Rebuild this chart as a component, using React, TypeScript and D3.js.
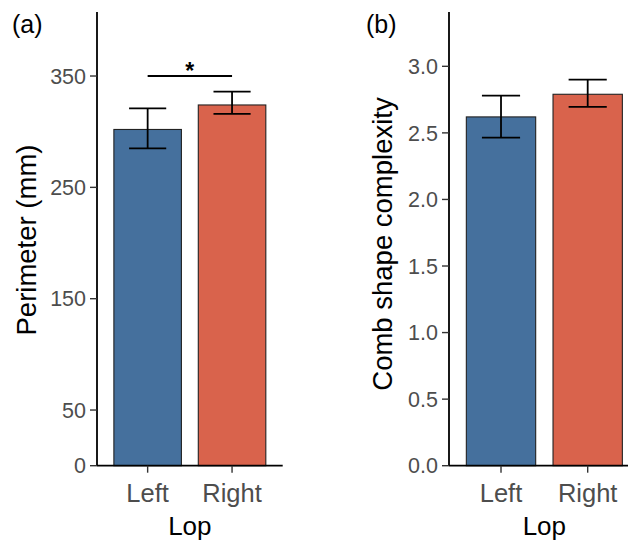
import React from 'react';
import * as d3 from 'd3';

// data
const categories = ['Left', 'Right'];
const barColors = ['#45709d', '#d9634c'];

const perimeterMean = [302, 324];
const perimeterLow = [285, 316];
const perimeterHigh = [321, 336];
const perimeterTicks = [0, 50, 150, 250, 350];

const complexityMean = [2.62, 2.79];
const complexityLow = [2.465, 2.695];
const complexityHigh = [2.78, 2.9];
const complexityTicks = [0, 0.5, 1, 1.5, 2, 2.5, 3];

const FONT = '"Liberation Sans", Arial, sans-serif';

type PanelProps = {
  label: string;
  yTitle: string;
  left: number;
  right: number;
  yMax: number;
  mean: number[];
  low: number[];
  high: number[];
  ticks: number[];
  tickFormat: (v: number) => string;
  titleX: number;
  titleY: number;
  labelX: number;
  sig?: { y: number; text: string };
};

const Panel = (p: PanelProps) => {
  const top = 12;
  const bottom = 465.7;
  const x = d3.scalePoint<string>().domain(categories).range([p.left, p.right]).padding(0.6);
  const step = x.step();
  const y = d3.scaleLinear().domain([0, p.yMax]).range([bottom, top]);
  const barW = step * 0.8;
  const errW = step * 0.44;

  return (
    <g>
      <text x={p.labelX} y={33} fontSize={25} fontFamily={FONT} fill="#000">
        {p.label}
      </text>
      {/* bars */}
      {categories.map((c, i) => (
        <rect
          key={c}
          x={(x(c) as number) - barW / 2}
          y={y(p.mean[i])}
          width={barW}
          height={bottom - y(p.mean[i])}
          fill={barColors[i]}
          stroke="#222"
          strokeWidth={1.1}
        />
      ))}
      {/* error bars */}
      {categories.map((c, i) => {
        const cx = x(c) as number;
        return (
          <g key={c} stroke="#000" strokeWidth={1.8}>
            <line x1={cx} x2={cx} y1={y(p.low[i])} y2={y(p.high[i])} />
            <line x1={cx - errW / 2} x2={cx + errW / 2} y1={y(p.low[i])} y2={y(p.low[i])} />
            <line x1={cx - errW / 2} x2={cx + errW / 2} y1={y(p.high[i])} y2={y(p.high[i])} />
          </g>
        );
      })}
      {p.sig && (
        <g>
          <line
            x1={x(categories[0])}
            x2={x(categories[1])}
            y1={y(p.sig.y)}
            y2={y(p.sig.y)}
            stroke="#000"
            strokeWidth={1.8}
          />
          <text
            x={((x(categories[0]) as number) + (x(categories[1]) as number)) / 2}
            y={y(p.sig.y) + 3}
            textAnchor="middle"
            fontSize={23}
            fontWeight="bold"
            fontFamily={FONT}
          >
            {p.sig.text}
          </text>
        </g>
      )}
      {/* y axis */}
      <line x1={p.left} x2={p.left} y1={top} y2={bottom} stroke="#000" strokeWidth={1.8} />
      {p.ticks.map((t) => (
        <g key={t}>
          <line x1={p.left - 7} x2={p.left} y1={y(t)} y2={y(t)} stroke="#333" strokeWidth={1.4} />
          <text
            x={p.left - 11}
            y={y(t)}
            dy="0.36em"
            textAnchor="end"
            fontSize={21.5}
            fontFamily={FONT}
            fill="#4d4d4d"
          >
            {p.tickFormat(t)}
          </text>
        </g>
      ))}
      {/* x axis */}
      <line x1={p.left} x2={p.right} y1={bottom} y2={bottom} stroke="#000" strokeWidth={1.8} />
      {categories.map((c) => (
        <g key={c}>
          <line x1={x(c)} x2={x(c)} y1={bottom} y2={bottom + 7} stroke="#333" strokeWidth={1.4} />
          <text
            x={x(c)}
            y={501.5}
            textAnchor="middle"
            fontSize={25.5}
            fontFamily={FONT}
            fill="#4d4d4d"
          >
            {c}
          </text>
        </g>
      ))}
      <text
        x={(p.left + p.right) / 2}
        y={535}
        textAnchor="middle"
        fontSize={26}
        fontFamily={FONT}
        fill="#000"
      >
        Lop
      </text>
      <text
        transform={`translate(${p.titleX},${p.titleY}) rotate(-90)`}
        textAnchor="middle"
        fontSize={27.5}
        fontFamily={FONT}
        fill="#000"
      >
        {p.yTitle}
      </text>
    </g>
  );
};

export default function App() {
  return (
    <svg
      width={628}
      height={542}
      style={{ position: 'absolute', left: 0, top: 0, background: '#fff' }}
    >
      <rect width={628} height={542} fill="#fff" />
      <Panel
        label="(a)"
        yTitle="Perimeter (mm)"
        left={97}
        right={282.7}
        yMax={407.5}
        mean={perimeterMean}
        low={perimeterLow}
        high={perimeterHigh}
        ticks={perimeterTicks}
        tickFormat={(v) => String(v)}
        titleX={36}
        titleY={240}
        labelX={12}
        sig={{ y: 350, text: '*' }}
      />
      <Panel
        label="(b)"
        yTitle="Comb shape complexity"
        left={449}
        right={639.7}
        yMax={3.408}
        mean={complexityMean}
        low={complexityLow}
        high={complexityHigh}
        ticks={complexityTicks}
        tickFormat={d3.format('.1f')}
        titleX={392}
        titleY={244}
        labelX={366}
      />
    </svg>
  );
}
